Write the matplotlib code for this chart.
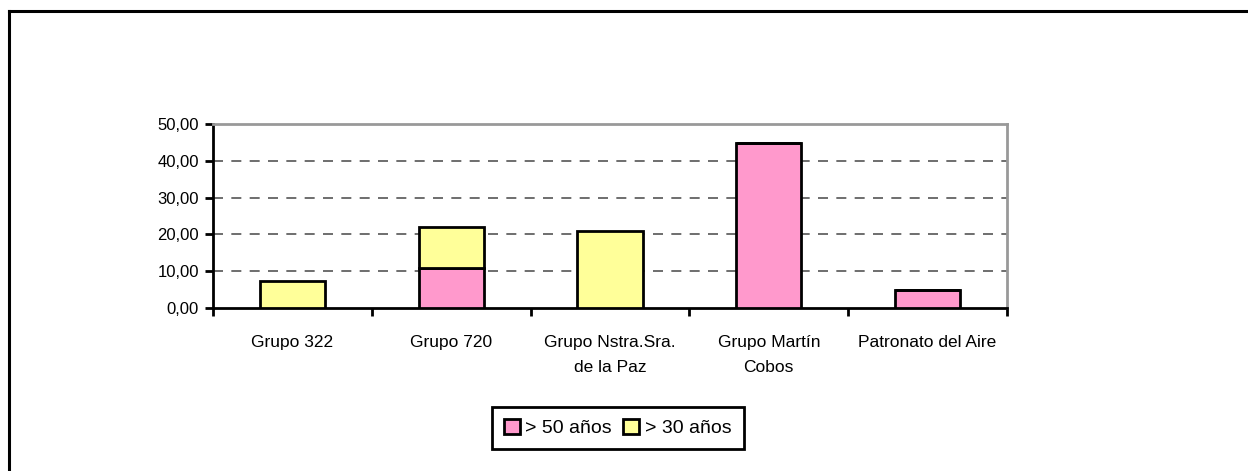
import matplotlib
matplotlib.use("Agg")
import matplotlib.pyplot as plt
import numpy as np
from matplotlib.lines import Line2D
from matplotlib.patches import Patch

plt.rcParams["font.family"] = ["Liberation Sans", "DejaVu Sans"]

categories = [
    "Grupo 322",
    "Grupo 720",
    "Grupo Nstra.Sra.\nde la Paz",
    "Grupo Martín\nCobos",
    "Patronato del Aire",
]
over_50 = [0.0, 10.8, 0.0, 44.9, 4.8]
over_30 = [7.4, 11.3, 20.9, 0.0, 0.0]
series_labels = ["> 50 años", "> 30 años"]
y_ticks = [0, 10, 20, 30, 40, 50]

PINK = "#FF99CC"
YELLOW = "#FFFF99"
FS = 12.5

fig = plt.figure(figsize=(12.48, 4.71), dpi=100)
ax = fig.add_axes([213 / 1248, 1 - 308 / 471, 794 / 1248, 184 / 471])

x = np.arange(len(categories))
width = 0.41
ax.bar(x, over_50, width, color=PINK, edgecolor="black", linewidth=2, zorder=3)
ax.bar(x, over_30, width, bottom=over_50, color=YELLOW, edgecolor="black",
       linewidth=2, zorder=3)

ax.set_xlim(-0.5, len(categories) - 0.5)
ax.set_ylim(0, 50)

# y axis
ax.set_yticks(y_ticks)
ax.set_yticklabels([f"{v:.2f}".replace(".", ",") for v in y_ticks], fontsize=12)
ax.tick_params(axis="y", direction="out", length=6, width=2, pad=4,
               colors="black")
for v in y_ticks[1:-1]:
    ax.axhline(v, color="#555555", linewidth=1.2, dashes=(6, 5), zorder=1)

# x axis: ticks between categories, labels at centres
ax.set_xticks(np.arange(len(categories) + 1) - 0.5)
ax.set_xticklabels([])
ax.set_xticks(x, minor=True)
ax.set_xticklabels(categories, minor=True, fontsize=FS, linespacing=1.85,
                   va="top")
ax.tick_params(axis="x", which="major", direction="out", length=6, width=2)
ax.tick_params(axis="x", which="minor", length=0, pad=19.5)

for side in ("left", "bottom"):
    ax.spines[side].set_color("black")
    ax.spines[side].set_linewidth(2)
for side in ("top", "right"):
    ax.spines[side].set_color("#999999")
    ax.spines[side].set_linewidth(2)

handles = [Patch(facecolor=PINK, edgecolor="black", linewidth=2),
           Patch(facecolor=YELLOW, edgecolor="black", linewidth=2)]
leg = fig.legend(handles, series_labels, loc="center",
                 bbox_to_anchor=(617.5 / 1248, 1 - 428 / 471), ncol=2,
                 fontsize=14, frameon=True, fancybox=False, framealpha=1,
                 handlelength=0.82, handleheight=0.82, handletextpad=0.3,
                 columnspacing=0.57, borderpad=0.62, borderaxespad=0)
leg.get_frame().set_edgecolor("black")
leg.get_frame().set_linewidth(2)

# outer chart frame
fig.add_artist(Line2D([9 / 1248, 1], [1 - 11 / 471, 1 - 11 / 471],
                      color="black", linewidth=2.2, transform=fig.transFigure))
fig.add_artist(Line2D([9 / 1248, 9 / 1248], [0, 1 - 11 / 471],
                      color="black", linewidth=2.2, transform=fig.transFigure))

fig.savefig("out.png", dpi=100)
